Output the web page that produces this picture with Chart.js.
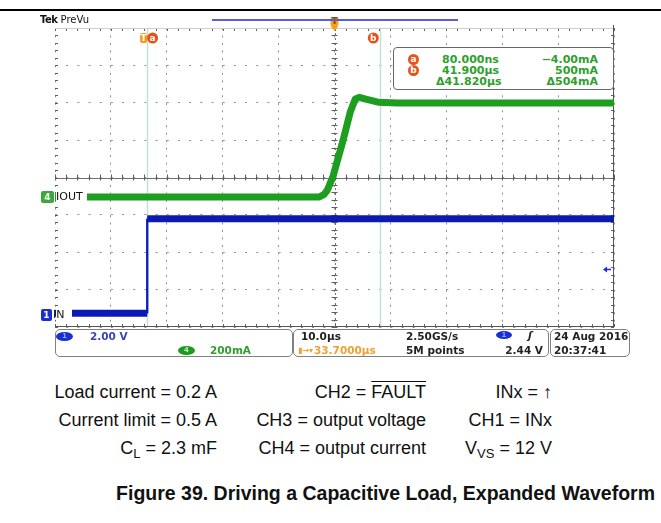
<!DOCTYPE html>
<html>
<head>
<meta charset="utf-8">
<script src="https://cdn.jsdelivr.net/npm/chart.js@4.4.1/dist/chart.umd.min.js"></script>
<style>
body { margin: 0; width: 661px; height: 523px; overflow: hidden; position: relative; background: #fff; font-family: "Liberation Sans", Arial, sans-serif; }
#rule { position: absolute; left: 0; top: 9px; width: 661px; height: 2px; background: #000; }
#scope { position: absolute; left: 0; top: 0; width: 661px; height: 340px; }
.t { position: absolute; white-space: nowrap; font-family: "DejaVu Sans", sans-serif; font-size: 10.5px; line-height: 11px; font-weight: bold; }
.box { position: absolute; border: 1px solid #808080; border-radius: 5px; box-sizing: border-box; background: #fff; }
.dot { position: absolute; width: 11px; height: 11px; border-radius: 50%; background: #e4531b; color: #fff; font: bold 9px/11px "DejaVu Sans", sans-serif; text-align: center; }
.oval { position: absolute; width: 17px; height: 9px; border-radius: 50%; font: bold 7px/9px "DejaVu Sans", sans-serif; text-align: center; }
.note { position: absolute; font-size: 18px; line-height: 18px; color: #111; text-align: right; white-space: nowrap; }
.note sub { font-size: 13px; vertical-align: -4px; line-height: 0; }
#caption { position: absolute; right: 6px; top: 484px; font-weight: bold; font-size: 19.5px; line-height: 19.5px; color: #111; white-space: nowrap; }
</style>
</head>
<body>
<div id="rule"></div>
<div id="scope"><canvas id="c"></canvas></div>

<div class="t" style="left:40px;top:14px;font-size:10px;font-weight:normal;color:#111"><b style="letter-spacing:-0.5px">Tek</b> PreVu</div>
<div style="position:absolute;left:212px;top:19px;width:246px;height:1.5px;background:#5a5ae6"></div>

<div class="box" style="left:393px;top:47px;width:221px;height:43px;border-color:#666;border-radius:4px"></div>
<div class="dot" style="left:408px;top:54px">a</div>
<div class="dot" style="left:408px;top:65px">b</div>
<div class="t" style="left:442px;top:54px;color:#2ea02e;font-size:11px">80.000ns</div>
<div class="t" style="left:442px;top:65px;color:#2ea02e;font-size:11px">41.900µs</div>
<div class="t" style="left:436px;top:76px;color:#2ea02e;font-size:11px">Δ41.820µs</div>
<div class="t" style="right:63px;top:54px;color:#2ea02e;font-size:11px">−4.00mA</div>
<div class="t" style="right:63px;top:65px;color:#2ea02e;font-size:11px">500mA</div>
<div class="t" style="right:63px;top:76px;color:#2ea02e;font-size:11px">Δ504mA</div>

<div class="box" style="left:55px;top:329px;width:238px;height:28px"></div>
<div class="oval" style="left:56px;top:332px;background:#1a2fd0;color:#8fa3ff">1</div>
<div class="t" style="left:90px;top:331px;color:#3a44b4">2.00 V</div>
<div class="oval" style="left:178px;top:346px;background:#1e9a1e;color:#b8f0b8">4</div>
<div class="t" style="left:210px;top:345px;color:#2e9e2e">200mA</div>

<div class="box" style="left:293px;top:329px;width:256px;height:28px"></div>
<div class="t" style="left:301px;top:331px;color:#222">10.0µs</div>
<div class="t" style="left:298px;top:345px;color:#f0a030;font-size:8px">▮→▾</div>
<div class="t" style="left:314px;top:345px;color:#f0a030">33.7000µs</div>
<div class="t" style="left:406px;top:331px;color:#222">2.50GS/s</div>
<div class="t" style="left:406px;top:345px;color:#222">5M points</div>
<div class="oval" style="left:496px;top:331px;width:16px;height:8px;line-height:8px;background:#1a2fd0;color:#8fa3ff">1</div>
<div class="t" style="left:528px;top:330px;color:#222;font-style:italic">ʃ</div>
<div class="t" style="right:118px;top:345px;color:#222">2.44 V</div>

<div class="box" style="left:550px;top:329px;width:80px;height:28px"></div>
<div class="t" style="left:554px;top:331px;color:#222">24 Aug 2016</div>
<div class="t" style="left:554px;top:345px;color:#222">20:37:41</div>

<div class="note" style="right:444px;top:383px">Load current = 0.2 A</div>
<div class="note" style="right:444px;top:411px">Current limit = 0.5 A</div>
<div class="note" style="right:444px;top:439px">C<sub>L</sub> = 2.3 mF</div>
<div class="note" style="right:235px;top:383px">CH2 = <span style="text-decoration:overline">FAULT</span></div>
<div class="note" style="right:235px;top:411px">CH3 = output voltage</div>
<div class="note" style="right:235px;top:439px">CH4 = output current</div>
<div class="note" style="right:109px;top:383px">INx = ↑</div>
<div class="note" style="right:109px;top:411px">CH1 = INx</div>
<div class="note" style="right:109px;top:439px">V<sub>VS</sub> = 12 V</div>

<div id="caption">Figure 39. Driving a Capacitive Load, Expanded Waveform</div>

<script>
// CH1 = INx (V), CH4 = IOUT (mA), time in µs relative to trigger
var inTimes = [-16.3, 0.2, 0.2, 83.7];
var inVolts = [0.1, 0.1, 5.15, 5.15];

var outTimes = [-16.3, 31.0, 31.8, 32.4, 33.4, 35.2, 36.5, 37.4, 38.1, 39.3, 41.5, 45.0, 60.0, 83.7];
var outMilliamps = [0, 0, 12, 35, 107, 299, 453, 523, 533, 523, 507, 503, 502, 502];

// scope settings
var timePerDiv = 10;
var centerTime = 33.7;
var xDivisions = 10;
var yDivisions = 8;
var voltsPerDiv = 2;
var milliampsPerDiv = 200;
var ch1Ground = 0.32;   // divisions above bottom of screen
var ch4Ground = 3.48;
var triggerLevel = 2.44;
var cursorA = 0.08;
var cursorB = 41.9;

var xMin = centerTime - timePerDiv * xDivisions / 2;
var xMax = centerTime + timePerDiv * xDivisions / 2;

function points(xs, ys)
{
    return xs.map(function (x, i) { return { x: x, y: ys[i] }; });
}

function thinStep(ctx)
{
    return ctx.p0.parsed.x === ctx.p1.parsed.x ? 2 : undefined;
}

function line(ctx, x1, y1, x2, y2)
{
    ctx.beginPath();
    ctx.moveTo(x1, y1);
    ctx.lineTo(x2, y2);
    ctx.stroke();
}

function chip(ctx, x, y, w, h, fill, text, color)
{
    ctx.fillStyle = fill;
    ctx.beginPath();
    ctx.roundRect(x, y, w, h, 2);
    ctx.fill();
    ctx.fillStyle = color;
    ctx.font = 'bold 9px "DejaVu Sans"';
    ctx.textAlign = 'center';
    ctx.textBaseline = 'middle';
    ctx.fillText(text, x + w / 2, y + h / 2 + 0.5);
}

function badge(ctx, x, y, letter)
{
    ctx.fillStyle = '#e4531b';
    ctx.beginPath();
    ctx.arc(x, y, 5.5, 0, Math.PI * 2);
    ctx.fill();
    ctx.fillStyle = '#fff';
    ctx.font = 'bold 9px "DejaVu Sans"';
    ctx.textAlign = 'center';
    ctx.textBaseline = 'middle';
    ctx.fillText(letter, x, y + 0.5);
}

var scopePlugin = {
    id: 'scope',
    beforeDatasetsDraw: function (chart)
    {
        var ctx = chart.ctx, a = chart.chartArea, x = chart.scales.x, g = chart.scales.grid;
        var cx = x.getPixelForValue(centerTime), cy = g.getPixelForValue(yDivisions / 2);

        ctx.save();

        // cursors
        ctx.strokeStyle = '#bfe4d6';
        ctx.lineWidth = 1.5;
        [cursorA, cursorB].forEach(function (t)
        {
            var px = Math.round(x.getPixelForValue(t)) + 0.5;
            line(ctx, px, a.top, px, a.bottom);
        });

        // crosshair
        ctx.lineWidth = 1;
        ctx.strokeStyle = '#707070';
        line(ctx, a.left, Math.round(cy) + 0.5, a.right, Math.round(cy) + 0.5);
        ctx.setLineDash([2, 3]);
        line(ctx, Math.round(cx) + 0.5, a.top, Math.round(cx) + 0.5, a.bottom);
        ctx.setLineDash([]);

        // minor ticks
        ctx.strokeStyle = '#606060';
        for (var k = 0; k <= xDivisions * 5; k++)
        {
            var px = Math.round(x.getPixelForValue(xMin + k * timePerDiv / 5)) + 0.5;
            line(ctx, px, cy - 3, px, cy + 3);
            line(ctx, px, a.top, px, a.top + 3);
            line(ctx, px, a.bottom - 3, px, a.bottom);
        }
        for (var j = 0; j <= yDivisions * 5; j++)
        {
            var py = Math.round(g.getPixelForValue(j / 5)) + 0.5;
            line(ctx, cx - 3, py, cx + 3, py);
            line(ctx, a.left, py, a.left + 3, py);
            line(ctx, a.right - 3, py, a.right, py);
        }

        // frame
        ctx.strokeStyle = '#cfcfcf';
        line(ctx, a.left, a.top + 0.5, a.right, a.top + 0.5);
        ctx.strokeStyle = '#555';
        line(ctx, a.right - 0.5, a.top - 3, a.right - 0.5, a.bottom);
        line(ctx, a.left, a.bottom - 0.5, a.right, a.bottom - 0.5);

        ctx.restore();
    },
    afterDatasetsDraw: function (chart)
    {
        var ctx = chart.ctx, a = chart.chartArea, x = chart.scales.x;
        var yIn = chart.scales.yIn, yOut = chart.scales.yOut;

        ctx.save();

        // ground markers
        var g4 = yOut.getPixelForValue(0);
        ctx.fillStyle = '#fff';
        ctx.fillRect(a.left + 1, g4 - 7, 31, 14);
        chip(ctx, 41, g4 - 6, 13, 12, '#3aa83a', '4', '#fff');
        ctx.fillStyle = '#111';
        ctx.font = '11px "DejaVu Sans"';
        ctx.textAlign = 'left';
        ctx.textBaseline = 'middle';
        ctx.fillText('IOUT', 56, g4 + 0.5);

        var g1 = yIn.getPixelForValue(0);
        ctx.fillStyle = '#fff';
        ctx.fillRect(a.left + 1, g1 - 7, 16, 14);
        chip(ctx, 41, g1 - 6, 11, 12, '#1a2fd0', '1', '#fff');
        ctx.fillStyle = '#111';
        ctx.font = '11px "DejaVu Sans"';
        ctx.textAlign = 'left';
        ctx.fillText('IN', 53, g1 + 0.5);

        // trigger level
        var ty = yIn.getPixelForValue(triggerLevel);
        ctx.strokeStyle = '#1a2fd0';
        ctx.fillStyle = '#1a2fd0';
        ctx.lineWidth = 1.5;
        line(ctx, a.right - 3, ty, a.right - 9, ty);
        ctx.beginPath();
        ctx.moveTo(a.right - 11, ty);
        ctx.lineTo(a.right - 7, ty - 3);
        ctx.lineTo(a.right - 7, ty + 3);
        ctx.closePath();
        ctx.fill();

        // trigger point and cursor badges
        var t0 = x.getPixelForValue(0);
        chip(ctx, t0 - 6, a.top + 5, 7, 10, '#f29a1c', 'T', '#fff');
        badge(ctx, x.getPixelForValue(cursorA) + 6, a.top + 10, 'a');
        badge(ctx, x.getPixelForValue(cursorB) - 7, a.top + 10, 'b');

        // horizontal position marker
        var hx = x.getPixelForValue(centerTime);
        chip(ctx, hx - 4, a.top - 11, 8, 9, '#f2a318', 'T', '#7a4a00');
        ctx.fillStyle = '#f2a318';
        ctx.beginPath();
        ctx.moveTo(hx - 4, a.top - 2);
        ctx.lineTo(hx + 4, a.top - 2);
        ctx.lineTo(hx, a.top + 3);
        ctx.closePath();
        ctx.fill();

        ctx.restore();
    }
};

var inData = points(inTimes, inVolts);
var outData = points(outTimes, outMilliamps);

new Chart(document.getElementById('c'), {
    type: 'line',
    data: {
        datasets: [
            { data: inData, yAxisID: 'yIn', borderColor: '#0c1ab4', borderWidth: 7, segment: { borderWidth: thinStep } },
            { data: inData, yAxisID: 'yIn', borderColor: '#2240f0', borderWidth: 3, segment: { borderWidth: thinStep } },
            { data: outData, yAxisID: 'yOut', borderColor: '#1e9e1e', borderWidth: 7 },
            { data: outData, yAxisID: 'yOut', borderColor: '#46e846', borderWidth: 3 }
        ]
    },
    options: {
        responsive: true,
        maintainAspectRatio: false,
        animation: false,
        layout: { padding: { left: 55, right: 47, top: 28, bottom: 13 } },
        plugins: { legend: { display: false }, tooltip: { enabled: false } },
        elements: { point: { radius: 0 }, line: { tension: 0, borderJoinStyle: 'round', fill: false } },
        scales: {
            x: {
                type: 'linear', min: xMin, max: xMax,
                afterBuildTicks: function (s)
                {
                    s.ticks = [];
                    for (var k = 0; k <= xDivisions; k++) s.ticks.push({ value: xMin + k * timePerDiv });
                },
                afterFit: function (s) { s.height = 0; },
                ticks: { display: false },
                grid: { color: '#8f8f8f', drawTicks: false },
                border: { display: false, dash: [2, 5.48] }
            },
            grid: {
                type: 'linear', position: 'left', min: 0, max: yDivisions,
                afterFit: function (s) { s.width = 0; },
                ticks: { display: false, stepSize: 1 },
                grid: { color: '#8f8f8f', drawTicks: false },
                border: { display: false, dash: [2, 9.18] }
            },
            yIn: { type: 'linear', display: false, min: -ch1Ground * voltsPerDiv, max: (yDivisions - ch1Ground) * voltsPerDiv },
            yOut: { type: 'linear', display: false, min: -ch4Ground * milliampsPerDiv, max: (yDivisions - ch4Ground) * milliampsPerDiv }
        }
    },
    plugins: [scopePlugin]
});
</script>
</body>
</html>
